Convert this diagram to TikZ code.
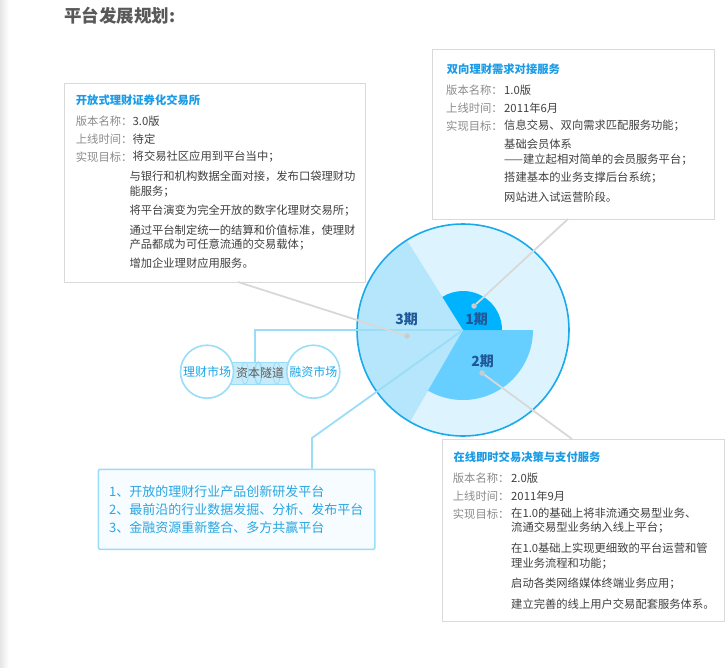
\documentclass[tikz,border=0pt]{standalone}
\usepackage{fontspec}
\setmainfont{Noto Sans CJK SC}
\usetikzlibrary{calc}
\definecolor{panelgrey}{HTML}{D9D9D9}
\definecolor{titlegrey}{HTML}{595959}
\definecolor{headblue}{HTML}{1A9BE6}
\definecolor{labelgrey}{HTML}{8C8C8C}
\definecolor{textgrey}{HTML}{404040}
\definecolor{rimblue}{HTML}{1AAAEC}
\definecolor{bgblue}{HTML}{DDF4FE}
\definecolor{sectorthree}{HTML}{B5E6FB}
\definecolor{sectortwo}{HTML}{66CFFF}
\definecolor{sectorone}{HTML}{00B3FF}
\definecolor{phaseblue}{HTML}{1F5799}
\definecolor{linkblue}{HTML}{9ADDF7}
\definecolor{linkgrey}{HTML}{D8D8D8}
\definecolor{spotgrey}{HTML}{CBCBCB}
\definecolor{marketblue}{HTML}{1DA6E6}
\definecolor{tubeblue}{HTML}{C6EBFA}
\definecolor{goalfill}{HTML}{F6FCFF}
\definecolor{goalblue}{HTML}{2AA6E0}
\newcommand{\bodysize}{\fontsize{11.3}{14.5}\selectfont}
\tikzset{
  panel/.style={draw=panelgrey, line width=1pt, fill=white, anchor=north west, inner sep=0pt},
  head/.style={anchor=west, inner sep=0pt, text=headblue, font=\bodysize\bfseries},
  lbl/.style={anchor=west, inner sep=0pt, text=labelgrey, font=\bodysize},
  val/.style={anchor=west, inner sep=0pt, align=left, text=textgrey, font=\bodysize},
  phase/.style={inner sep=0pt, text=phaseblue, font=\fontsize{14}{14}\selectfont\bfseries},
  market/.style={circle, draw=linkblue, line width=1.6pt, fill=white, minimum size=53pt, inner sep=0pt, text=marketblue, font=\fontsize{12}{12}\selectfont},
  tube/.style={draw=linkblue, line width=0.8pt, fill=tubeblue, minimum width=58pt, minimum height=22pt, inner sep=0pt},
  ring/.style={draw=linkblue, line width=0.8pt},
  bluelink/.style={draw=linkblue, line width=1.8pt},
  greylink/.style={draw=linkgrey, line width=1.8pt},
  spot/.style={circle, fill=spotgrey, inner sep=0pt, minimum size=5.5pt},
  goals/.style={draw=linkblue, line width=1.6pt, fill=goalfill, rounded corners=1.5pt, anchor=north west, minimum width=276pt, minimum height=80pt, inner xsep=10.8pt, text width=255pt, align=left, text=goalblue, font=\fontsize{13}{18}\selectfont}
}
\begin{document}
\begin{tikzpicture}[x=1pt,y=1pt]
\useasboundingbox (0,0) rectangle (725,-667);
\shade[left color=black!10, right color=white] (0,0) rectangle (9,-667);
\def\xC{463};
\def\yC{-330};
\def\rBig{106};
\def\rOne{39};
\def\rTwo{70};
\coordinate (C) at (\xC,\yC);
\node[anchor=west, inner sep=0pt, text=titlegrey, font=\fontsize{17.5}{17.5}\selectfont\bfseries] (heading) at (64,-15.7) {平台发展规划:};

\node[panel, minimum width=301pt, minimum height=199.5pt] (exch) at (63.5,-82.5) {};
\node[head] (exchT) at (75.7,-100) {开放式理财证券化交易所};
\foreach \txt [count=\i] in {版本名称：,上线时间：,实现目标：} \node[lbl] (exchL\i) at (75.7,{-103-18*\i}) {\txt};
\foreach \x/\y/\txt [count=\i] in {132.5/-121/3.0版, 132.5/-139/待定, 132.5/-157/将交易社区应用到平台当中；, 129.3/-184/{与银行和机构数据全面对接，发布口袋理财功\\能服务；}, 129.3/-211/将平台演变为完全开放的数字化理财交易所；, 129.3/-237.5/{通过平台制定统一的结算和价值标准，使理财\\产品都成为可任意流通的交易载体；}, 129.3/-263/增加企业理财应用服务。}
  \node[val] (exchV\i) at (\x,\y) {\txt};

\node[panel, minimum width=282pt, minimum height=170.5pt] (match) at (431.5,-48.5) {};
\node[head] (matchT) at (446.7,-69) {双向理财需求对接服务};
\foreach \txt [count=\i] in {版本名称：,上线时间：,实现目标：} \node[lbl] (matchL\i) at (446,{-72-18*\i}) {\txt};
\foreach \y/\txt [count=\i] in {-90/1.0版, -108/2011年6月, -126/信息交易、双向需求匹配服务功能；, -152/{基础会员体系\\——建立起相对简单的会员服务平台；}, -178/搭建基本的业务支撑后台系统；, -197/网站进入试运营阶段。}
  \node[val] (matchV\i) at (504,\y) {\txt};

\node[panel, minimum width=282pt, minimum height=182pt] (online) at (441.5,-439) {};
\node[head] (onlineT) at (453.3,-457) {在线即时交易决策与支付服务};
\foreach \txt [count=\i] in {版本名称：,上线时间：,实现目标：} \node[lbl] (onlineL\i) at (452.7,{-460-18*\i}) {\txt};
\foreach \y/\txt [count=\i] in {-478/2.0版, -496/2011年9月, -520.5/{在1.0的基础上将非流通交易型业务、\\流通交易型业务纳入线上平台；}, -556/{在1.0基础上实现更细致的平台运营和管\\理业务流程和功能；}, -584/启动各类网络媒体终端业务应用；, -604/建立完善的线上用户交易配套服务体系。}
  \node[val] (onlineV\i) at (511,\y) {\txt};

\node[goals] (goalbox) at (97.5,-468.5) {1、开放的理财行业产品创新研发平台\\2、最前沿的行业数据发掘、分析、发布平台\\3、金融资源重新整合、多方共赢平台};

\fill[bgblue] (C) circle[radius=\rBig pt];
\fill[sectorthree] (C) -- ++(122:\rBig pt) arc[start angle=122, end angle=240, radius=\rBig pt] -- cycle;
\fill[sectortwo] (C) -- ++(-120:\rTwo pt) arc[start angle=-120, end angle=0, radius=\rTwo pt] -- cycle;
\fill[sectorone] (C) -- ++(0:\rOne pt) arc[start angle=0, end angle=122, radius=\rOne pt] -- cycle;
\draw[rimblue, line width=1.6pt] (C) circle[radius=\rBig pt];

\node[tube] (tunnel) at (260,-373) {};
\foreach \dx/\w in {-15/0.8, -1.7/1.4, 16.7/0.8} \draw[ring, line width=\w pt] ([xshift=\dx pt]tunnel.center) ellipse[x radius=3.5pt, y radius=11pt];
\node[inner sep=0pt, text=textgrey!85, font=\fontsize{12}{12}\selectfont] (tunnelT) at (tunnel.center) {资本隧道};
\node[market] (finmkt) at (207,-371.7) {理财市场};
\node[market] (capmkt) at (313.3,-371.7) {融资市场};

\coordinate (knee1) at (255,\yC);
\coordinate (knee2) at (312,-438);
\draw[bluelink] (C) -- (knee1) -- (knee1 |- tunnel.north);
\draw[bluelink] (C) -- (knee2) -- (knee2 |- goalbox.north);

\node[spot] (dot1) at (474,-306) {};
\node[spot] (dot2) at (482,-373) {};
\node[spot] (dot3) at (407,-336) {};
\coordinate (tip1) at (568,-219);
\coordinate (tip2) at (572,-439);
\coordinate (tip3) at (238,-282);
\draw[greylink] (dot1) -- (tip1);
\draw[greylink] (dot2) -- (tip2);
\draw[greylink] (dot3) -- (tip3);

\node[phase] (ph3) at (406.7,-319.3) {3期};
\node[phase] (ph1) at (476.7,-319.3) {1期};
\node[phase] (ph2) at (482.7,-361) {2期};
\end{tikzpicture}
\end{document}
